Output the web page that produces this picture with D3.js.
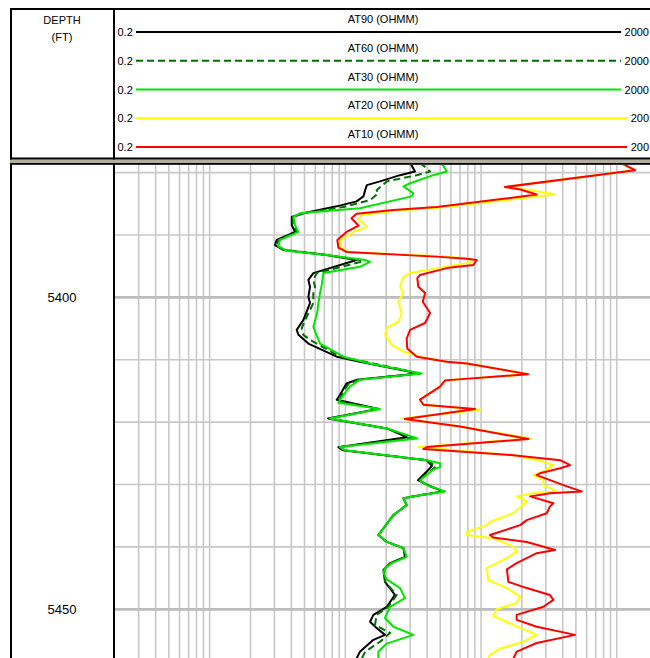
<!DOCTYPE html>
<html><head><meta charset="utf-8">
<script src="https://cdn.jsdelivr.net/npm/d3@7"></script>
<style>html,body{margin:0;padding:0;background:#fff;} svg{display:block;font-family:"Liberation Sans",Arial,sans-serif;}</style>
</head><body><svg id="c" width="650" height="658"></svg>
<script>
const curveNames = ["AT90 (OHMM)","AT60 (OHMM)","AT30 (OHMM)","AT20 (OHMM)","AT10 (OHMM)"];
const curveColors = ["#000000","#006f00","#00e600","#ffff00","#ff0000"];
const curveDash = [null,"7,4",null,null,null];
const scaleMin = ["0.2","0.2","0.2","0.2","0.2"];
const scaleMax = ["2000","2000","2000","200","200"];
const depthLabels = [5400,5450];
const depthMajor = [5400,5450];
const depthGrid = [5380,5390,5400,5410,5420,5430,5440,5450];

const at90 = [[5378.4,30.0],[5379.8,32.6],[5380.4,25.3],[5381.4,18.0],[5382.0,14.4],[5382.8,14.0],[5383.8,13.6],[5384.6,12.1],[5385.4,8.64],[5386.5,4.91],[5387.1,4.03],[5388.4,4.03],[5389.5,4.26],[5390.8,3.12],[5391.6,3.03],[5392.4,3.49],[5393.2,7.29],[5394.0,12.1],[5396.1,5.81],[5397.2,5.34],[5398.3,5.49],[5399.9,5.34],[5400.9,5.49],[5403.6,4.91],[5405.2,4.38],[5406.0,4.51],[5407.4,5.34],[5409.5,8.64],[5410.3,12.8],[5412.2,34.9],[5413.2,12.2],[5413.8,10.2],[5415.6,9.14],[5416.4,8.64],[5417.9,17.5],[5419.4,7.45],[5421.0,20.2],[5422.4,28.3],[5424.0,8.88],[5424.5,9.6],[5426.1,39.8],[5427.0,43.5],[5427.7,40.7],[5429.3,34.3],[5430.1,40.7],[5431.1,52.4],[5431.7,35.5],[5432.2,26.8],[5433.3,28.3],[5434.9,22.6],[5438.1,17.5],[5439.2,20.2],[5440.2,26.8],[5441.6,27.5],[5442.6,21.35],[5443.7,19.1],[5445.6,19.6],[5447.7,23.2],[5449.6,20.2],[5450.9,16.1],[5452.0,15.2],[5453.0,17.0],[5454.1,19.6],[5454.9,16.1],[5456.8,12.8],[5457.9,12.1]];

const at60 = [[5378.4,35.5],[5379.8,42.1],[5380.4,33.6],[5381.4,20.2],[5382.8,17.0],[5383.3,17.5],[5384.4,15.2],[5385.5,9.67],[5386.5,4.91],[5387.1,4.1],[5388.4,4.1],[5389.5,4.38],[5390.8,3.21],[5391.7,3.12],[5392.4,3.59],[5393.2,7.29],[5394.0,12.8],[5394.2,13.5],[5396.1,6.15],[5397.2,5.81],[5398.3,5.98],[5399.3,5.81],[5400.9,5.81],[5403.1,5.19],[5404.9,4.77],[5406.0,4.9],[5406.8,5.49],[5409.5,9.14],[5410.3,14.0],[5412.2,35.5],[5413.2,12.4],[5414.0,10.4],[5416.1,9.14],[5416.6,8.8],[5417.9,17.7],[5419.4,7.6],[5421.0,20.2],[5422.5,31.2],[5424.0,9.0],[5424.5,9.8],[5426.1,39.8],[5427.1,46.6],[5427.7,43.0],[5429.3,34.9],[5430.1,40.0],[5431.1,53.0],[5431.7,35.5],[5432.2,26.8],[5433.3,28.3],[5434.9,22.6],[5438.1,17.5],[5439.2,20.2],[5440.2,26.8],[5441.6,28.0],[5442.6,21.7],[5443.5,19.4],[5445.6,19.6],[5447.7,23.9],[5449.6,20.7],[5450.9,17.0],[5452.5,16.55],[5453.8,21.35],[5455.2,18.0],[5456.8,14.0],[5457.9,13.2]];

const at30 = [[5378.4,51.0],[5379.8,55.9],[5380.4,44.5],[5381.7,30.0],[5382.2,26.8],[5383.3,31.7],[5383.8,30.8],[5385.7,12.8],[5386.5,4.64],[5387.1,4.14],[5388.4,4.26],[5389.5,4.51],[5390.8,3.30],[5391.8,3.21],[5392.5,3.70],[5393.2,7.29],[5394.0,14.0],[5394.3,15.2],[5395.1,12.8],[5396.1,6.89],[5398.0,6.70],[5399.3,6.51],[5400.9,6.33],[5402.5,6.2],[5404.7,5.81],[5405.5,5.98],[5407.4,6.51],[5409.5,9.67],[5410.6,15.2],[5412.2,36.5],[5413.2,12.8],[5414.3,10.8],[5416.4,9.14],[5416.9,8.88],[5417.9,18.0],[5419.4,7.71],[5421.0,20.2],[5422.6,33.9],[5424.0,9.14],[5424.5,9.95],[5426.1,39.8],[5426.6,49.9],[5427.2,49.9],[5427.6,44.5],[5429.3,35.5],[5430.1,39.8],[5431.1,54.3],[5431.7,35.5],[5432.2,26.8],[5433.3,28.3],[5434.9,22.6],[5438.1,17.5],[5439.2,20.2],[5440.2,26.8],[5441.6,28.3],[5442.6,22.0],[5443.4,19.6],[5444.2,19.1],[5445.2,20.2],[5446.6,25.3],[5448.2,27.5],[5449.6,21.35],[5451.4,19.6],[5452.8,22.6],[5454.1,31.7],[5455.5,20.2],[5456.8,17.5],[5457.9,17.5]];

const at20 = [[5378.4,1060],[5379.6,1363],[5382.3,150],[5382.8,230],[5383.5,351],[5384.5,138],[5385.6,49.9],[5386.1,23.2],[5386.8,13.3],[5387.4,12.4],[5388.7,14.4],[5389.5,11.5],[5390.8,9.3],[5391.9,9.14],[5392.7,10.5],[5393.4,49.9],[5393.8,83.0],[5394.2,85.8],[5394.5,78.4],[5396.1,30.0],[5396.7,26.8],[5398.3,25.3],[5399.3,26.8],[5400.7,24.6],[5402.5,26.0],[5403.9,24.6],[5404.9,20.2],[5406.0,19.6],[5407.6,22.0],[5408.7,26.8],[5409.5,35.5],[5410.3,55.9],[5410.6,78.4],[5412.3,222],[5413.3,54.3],[5414.3,49.9],[5416.4,35.5],[5417.2,37.6],[5418.0,98.3],[5419.4,26.0],[5420.7,70.0],[5422.6,230],[5424.0,34.5],[5425.3,173],[5426.2,272],[5426.9,341],[5427.9,288],[5428.5,243],[5429.3,288],[5430.1,288],[5431.1,361],[5431.4,243],[5431.9,183],[5432.7,217],[5434.6,173],[5436.0,116.5],[5436.5,110],[5437.6,78.4],[5438.1,78.4],[5438.6,123],[5440.0,173],[5440.8,183],[5441.8,155],[5442.6,130.5],[5443.4,110],[5445.3,113],[5446.6,155],[5448.0,194],[5449.0,183],[5450.0,130.5],[5451.1,123],[5452.5,173],[5454.1,257],[5455.2,205],[5456.3,138],[5457.3,116.5],[5457.9,113]];

const at10 = [[5378.4,1060],[5379.6,1363],[5382.3,150],[5382.7,194],[5383.5,257],[5384.4,123],[5385.5,47.1],[5386.0,22.5],[5386.6,12.1],[5387.3,11.1],[5388.5,12.5],[5389.5,10.2],[5390.8,8.73],[5392.0,8.88],[5392.7,10.2],[5393.5,49.9],[5393.8,78.4],[5394.0,92.9],[5394.8,87.8],[5395.3,55.9],[5396.4,35.5],[5396.9,33.9],[5398.3,34.5],[5399.3,38.7],[5400.7,37.2],[5402.5,42.1],[5404.1,38.7],[5405.2,30.0],[5406.6,28.3],[5408.2,28.6],[5409.5,33.6],[5410.3,55.9],[5410.6,78.4],[5412.3,222],[5413.3,54.3],[5414.3,49.9],[5416.4,35.5],[5417.2,37.6],[5417.9,90.3],[5419.5,27.5],[5420.7,70.0],[5422.7,223],[5424.0,39.8],[5424.3,37.6],[5425.3,173],[5426.1,382],[5426.6,428],[5426.9,452],[5427.4,382],[5428.2,272],[5428.5,257],[5429.3,322],[5430.3,428],[5431.1,552],[5431.4,322],[5431.9,230],[5433.0,341],[5433.5,322],[5434.6,305],[5435.7,217],[5436.5,194],[5438.1,116.5],[5438.5,123],[5439.2,217],[5440.5,351],[5441.0,257],[5442.6,183],[5443.6,155],[5445.6,159],[5446.6,217],[5447.7,322],[5448.5,341],[5449.6,288],[5450.9,183],[5451.7,183],[5452.8,257],[5454.1,493],[5455.4,257],[5456.8,183],[5457.9,173]];

const curves = [at90, at60, at30, at20, at10];

const svg = d3.select("#c");
const W = 650, H = 658;
const trackLeft = 114.8, trackRight = 657.6, trackTop = 165;
const x = d3.scaleLog().domain([0.2, 2000]).range([trackLeft, trackRight]);
const y = d3.scaleLinear().domain([5378.77, 5457.81]).range([trackTop, H]);

svg.append("rect").attr("width", W).attr("height", H).attr("fill", "#fff");

// clip for track
svg.append("defs").append("clipPath").attr("id", "trk")
  .append("rect").attr("x", trackLeft).attr("y", trackTop).attr("width", W - trackLeft).attr("height", H - trackTop);

const grid = svg.append("g").attr("clip-path", "url(#trk)");
// vertical log gridlines
const vt = x.ticks().filter(v => v > 0.2 * 1.001);
grid.selectAll("line.v").data(vt).join("line")
  .attr("x1", d => x(d)).attr("x2", d => x(d))
  .attr("y1", trackTop).attr("y2", H)
  .attr("stroke", "#c8c8c8").attr("stroke-width", 1.6);
// horizontal depth gridlines
grid.selectAll("line.h").data(depthGrid).join("line")
  .attr("x1", trackLeft).attr("x2", W)
  .attr("y1", d => y(d)).attr("y2", d => y(d))
  .attr("stroke", d => depthMajor.includes(d) ? "#bdbdbd" : "#c8c8c8")
  .attr("stroke-width", d => depthMajor.includes(d) ? 2.8 : 1.6);

// curves
const line = d3.line().x(d => x(d[1])).y(d => y(d[0]));
const cg = svg.append("g").attr("clip-path", "url(#trk)");
curves.forEach((c, i) => {
  cg.append("path").datum(c).attr("d", line)
    .attr("fill", "none").attr("stroke", curveColors[i])
    .attr("stroke-width", 2).attr("stroke-linejoin", "round")
    .attr("stroke-dasharray", curveDash[i]);
});

// frame lines
const fr = svg.append("g");
fr.append("line").attr("x1", 10).attr("x2", W).attr("y1", 9).attr("y2", 9).attr("stroke", "#000").attr("stroke-width", 2);
fr.append("line").attr("x1", 11).attr("x2", 11).attr("y1", 8).attr("y2", H).attr("stroke", "#000").attr("stroke-width", 2);
fr.append("line").attr("x1", 114).attr("x2", 114).attr("y1", 8).attr("y2", H).attr("stroke", "#000").attr("stroke-width", 2);
fr.append("rect").attr("x", 10).attr("y", 157.5).attr("width", W - 10).attr("height", 2.2).attr("fill", "#000");
fr.append("rect").attr("x", 10).attr("y", 159.7).attr("width", W - 10).attr("height", 3.3).attr("fill", "#b3ae9f");
fr.append("rect").attr("x", 10).attr("y", 163).attr("width", W - 10).attr("height", 1.8).attr("fill", "#000");

// header text
const hdr = svg.append("g").attr("font-size", 11).attr("fill", "#000");
hdr.append("text").attr("x", 62).attr("y", 24).attr("text-anchor", "middle").text("DEPTH");
hdr.append("text").attr("x", 62).attr("y", 40.5).attr("text-anchor", "middle").text("(FT)");

curveNames.forEach((n, i) => {
  const ry = 32 + i * 28.75;
  hdr.append("text").attr("x", 383).attr("y", ry - 9).attr("text-anchor", "middle").text(n);
  hdr.append("text").attr("x", 117.5).attr("y", ry + 4).text(scaleMin[i]);
  hdr.append("text").attr("x", 649).attr("y", ry + 4).attr("text-anchor", "end").text(scaleMax[i]);
  const xEnd = scaleMax[i].length === 4 ? 621 : 627;
  hdr.append("line").attr("x1", 136).attr("x2", xEnd).attr("y1", ry).attr("y2", ry)
    .attr("stroke", curveColors[i]).attr("stroke-width", 2)
    .attr("stroke-dasharray", curveDash[i]);
});

// depth labels
svg.append("g").selectAll("text").data(depthLabels).join("text")
  .attr("x", 62).attr("y", d => y(d) + 4.5).attr("text-anchor", "middle")
  .attr("font-size", 13).attr("fill", "#000").text(d => d);
</script></body></html>
